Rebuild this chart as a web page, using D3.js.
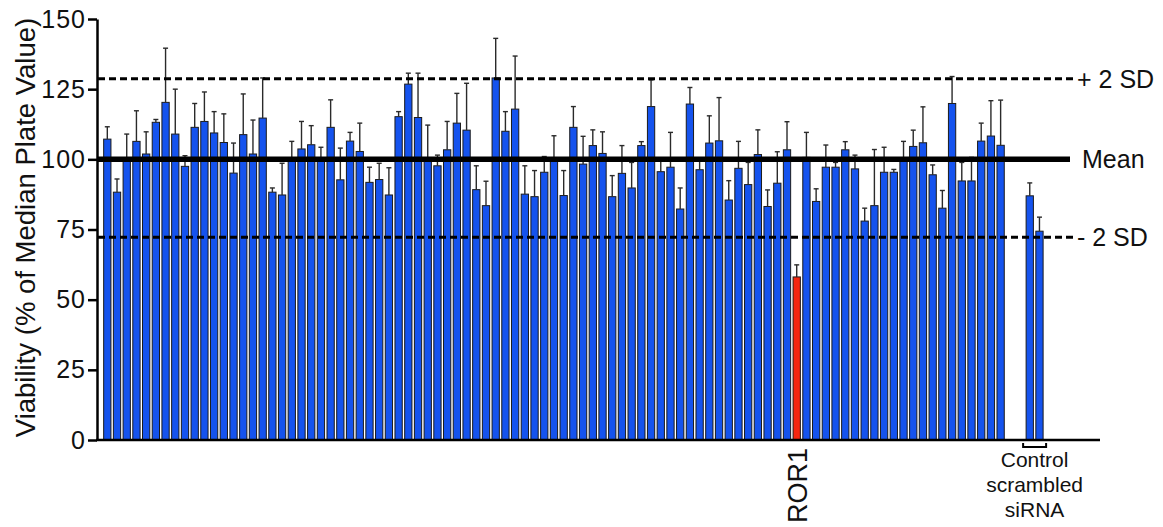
<!DOCTYPE html>
<html>
<head>
<meta charset="utf-8">
<script src="https://cdn.jsdelivr.net/npm/d3@7"></script>
<style>
  body { margin: 0; background: #fff; }
  svg { font-family: "Liberation Sans", Arial, Helvetica, sans-serif; }
</style>
</head>
<body>
<svg id="chart" width="1163" height="527"></svg>
<script>
// viability (% of median plate value) per siRNA
const values = [
  107.2, 88.3, 100.5, 106.4, 101.9, 113.2, 120.3, 109, 97.5, 111.4,
  113.5, 109.4, 106, 95.1, 108.8, 101.9, 114.7, 88.3, 87.3, 99.5,
  103.7, 105.2, 100, 111.4, 92.7, 106.5, 102.8, 91.8, 92.8, 87.3,
  115.2, 126.8, 114.9, 99.5, 97.7, 103.4, 112.9, 110.4, 89.2, 83.5,
  129, 110, 117.9, 87.6, 86.7, 95.4, 99.5, 87.1, 111.4, 98.3,
  104.9, 102.1, 86.7, 95, 89.8, 104.9, 118.8, 95.6, 97.2, 82.3,
  119.7, 96.3, 105.8, 106.6, 85.5, 96.8, 91, 101.7, 83.2, 91.5,
  103.4, 58.1, 100.7, 85, 97.2, 97.2, 103.4, 96.6, 78, 83.5,
  95.4, 95.4, 100, 104.6, 105.9, 94.5, 82.6, 119.9, 92.3, 92.3,
  106.5, 108.3, 105
];
const errors = [
  4.4, 4.7, 8.5, 10.9, 7.9, 1.0, 19.3, 16, 3.8, 8.5,
  10.5, 7.6, 10.2, 10.7, 14.5, 12.1, 14.3, 1.5, 11.3, 6.9,
  9.8, 6.8, 4.3, 9.8, 11.3, 3.1, 10.1, 5.4, 5.8, 9.7,
  1.8, 3.9, 15.8, 12.7, 3.8, 10.1, 10.6, 16.7, 8.5, 8.7,
  14.1, 7, 18.9, 10.1, 9.3, 5.6, 8.9, 8.9, 7.4, 9.9,
  5.6, 7.7, 7.5, 9.9, 9.1, 1.4, 9.5, 4.4, 12.4, 7.5,
  5.9, 3.7, 9.7, 15.4, 6.9, 9.6, 7.9, 8.8, 5.9, 11.2,
  10, 4.3, 8.9, 4.5, 7.9, 1.7, 2.9, 4.9, 4.6, 20,
  8.9, 1.0, 6.4, 5.8, 12.8, 3.5, 6.3, 9.6, 6.6, 8.4,
  6.4, 12.6, 16.1
];
const highlightIndex = 71; // ROR1
const controlValues = [87, 74.4];
const controlErrors = [4.6, 5];
const refLines = [
  { value: 128.7, label: "+ 2 SD", dashed: true },
  { value: 100, label: "Mean", dashed: false },
  { value: 72.2, label: "- 2 SD", dashed: true }
];
const yTicks = [0, 25, 50, 75, 100, 125, 150];

const svg = d3.select("#chart");

// one slot per siRNA, two empty slots, then the two controls
let rows = values.map((v, i) => ({ key: "s" + i, value: v, err: errors[i], red: i === highlightIndex }));
const gapKeys = ["gap1", "gap2"];
const controls = controlValues.map((v, i) => ({ key: "c" + i, value: v, err: controlErrors[i], red: false }));
const allRows = rows.concat(controls);
const domain = rows.map(d => d.key).concat(gapKeys, controls.map(d => d.key));

const x = d3.scaleBand()
  .domain(domain)
  .range([102.45, 102.45 + domain.length * 9.71])
  .paddingInner(0.25)
  .paddingOuter(0.125);

const y = d3.scaleLinear().domain([0, 150]).range([440, 19]);

// bars
svg.append("g").selectAll("rect")
  .data(allRows)
  .join("rect")
  .attr("x", d => x(d.key))
  .attr("y", d => y(d.value))
  .attr("width", x.bandwidth())
  .attr("height", d => y(0) - y(d.value))
  .attr("fill", d => d.red ? "#f5260f" : "#1553ee")
  .attr("stroke", "#1b1b1b")
  .attr("stroke-width", 1);

// error bars (upper only)
const eb = svg.append("g").attr("stroke", "#2a2a2a").attr("stroke-width", 1.4);
allRows.forEach(d => {
  const cx = x(d.key) + x.bandwidth() / 2;
  eb.append("line")
    .attr("x1", cx).attr("x2", cx)
    .attr("y1", y(d.value)).attr("y2", y(d.value + d.err));
  eb.append("line")
    .attr("x1", cx - 2.5).attr("x2", cx + 2.5)
    .attr("y1", y(d.value + d.err)).attr("y2", y(d.value + d.err));
});

// reference lines
refLines.forEach(r => {
  svg.append("line")
    .attr("x1", 98)
    .attr("x2", r.dashed ? 1074 : 1070)
    .attr("y1", y(r.value)).attr("y2", y(r.value))
    .attr("stroke", "#000")
    .attr("stroke-width", r.dashed ? 3 : 5.5)
    .attr("stroke-dasharray", r.dashed ? "7,4" : null);
  svg.append("text")
    .attr("x", r.dashed ? 1077 : 1082)
    .attr("y", y(r.value))
    .attr("dy", "0.36em")
    .attr("font-size", 25)
    .attr("fill", "#111")
    .text(r.label);
});

// y axis
const yAxis = svg.append("g")
  .attr("transform", "translate(97,0)")
  .call(d3.axisLeft(y).tickValues(yTicks).tickSize(9).tickSizeOuter(0).tickPadding(2));
yAxis.select(".domain").attr("stroke", "#000").attr("stroke-width", 2.5);
yAxis.selectAll(".tick line").attr("stroke", "#000").attr("stroke-width", 2.5);
yAxis.selectAll(".tick text")
  .attr("font-size", 25)
  .attr("font-family", "Liberation Sans, Arial, sans-serif")
  .attr("fill", "#111")
  .attr("letter-spacing", 1);

// x baseline
svg.append("line")
  .attr("x1", 96).attr("x2", 1100)
  .attr("y1", y(0)).attr("y2", y(0))
  .attr("stroke", "#000")
  .attr("stroke-width", 2.5);

// y title
svg.append("text")
  .attr("transform", `translate(35,${(y(0) + y(150)) / 2 - 2}) rotate(-90)`)
  .attr("text-anchor", "middle")
  .attr("font-size", 27.5)
  .attr("fill", "#111")
  .text("Viability (% of Median Plate Value)");

// ROR1 label
const rorX = x("s" + highlightIndex) + x.bandwidth() / 2;
svg.append("text")
  .attr("transform", `translate(${rorX + 10},448) rotate(-90)`)
  .attr("text-anchor", "end")
  .attr("font-size", 27)
  .attr("fill", "#111")
  .text("ROR1");

// control bracket and label
const cx0 = x("c0") - 3, cx1 = x("c1") + x.bandwidth() + 3;
svg.append("path")
  .attr("d", `M${cx0},443V447H${cx1}V443`)
  .attr("fill", "none")
  .attr("stroke", "#000")
  .attr("stroke-width", 2);
const cmid = (cx0 + cx1) / 2;
["Control", "scrambled", "siRNA"].forEach((t, i) => {
  svg.append("text")
    .attr("x", cmid)
    .attr("y", 467 + i * 25)
    .attr("text-anchor", "middle")
    .attr("font-size", 21)
    .attr("fill", "#111")
    .text(t);
});
</script>
</body>
</html>
